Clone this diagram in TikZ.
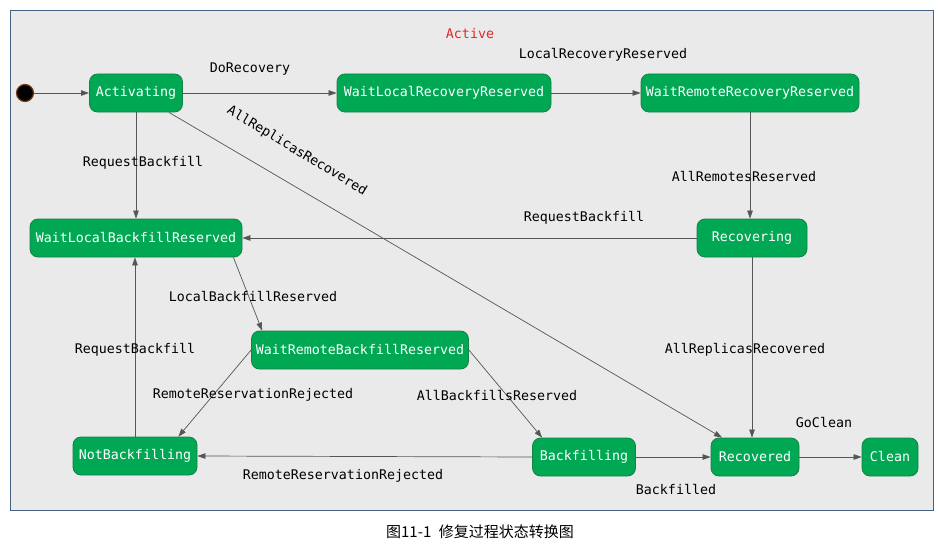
\documentclass[tikz,border=0pt]{standalone}
\usepackage{fontspec}
\setmonofont{DejaVu Sans Mono}
\newfontfamily\cjk{Noto Sans CJK SC}
\usetikzlibrary{arrows.meta,calc}
\definecolor{stgreen}{RGB}{0,168,84}
\definecolor{stborder}{RGB}{20,130,70}
\definecolor{bggray}{RGB}{234,234,234}
\definecolor{frameblue}{RGB}{70,95,130}
\definecolor{edgegray}{RGB}{85,85,85}
\definecolor{activered}{RGB}{225,40,40}
\tikzset{
  state/.style={draw=stborder, line width=0.8pt, fill=stgreen, rounded corners=8pt,
    minimum height=38pt, inner sep=0pt, text=white,
    font=\ttfamily\fontsize{13.3}{16}\selectfont},
  lbl/.style={inner sep=0pt, text=black, font=\ttfamily\fontsize{13.3}{16}\selectfont},
  tr/.style={draw=edgegray, line width=0.7pt, -{Triangle[length=8pt,width=5.5pt]}}
}
\begin{document}
\begin{tikzpicture}[x=1pt,y=-1pt]
\useasboundingbox (0,0) rectangle (940,551);
\node[fill=white, draw=none, minimum width=940pt, minimum height=551pt, inner sep=0pt] (page) at (470,275.5) {};
\node[draw=frameblue, line width=0.8pt, fill=bggray, minimum width=923pt, minimum height=500pt, inner sep=0pt] (frame) at (471.5,260) {};

\node[text=activered, inner sep=0pt, font=\ttfamily\fontsize{13.3}{16}\selectfont] (active) at (470,34) {Active};

\node[circle, fill=black, draw={rgb,255:red,120;green,60;blue,20}, line width=1.2pt, minimum size=17pt, inner sep=0pt] (init) at (25,93) {};

\node[state, minimum width=93pt]  (act)  at (136,93)  {Activating};
\node[state, minimum width=214pt] (wlrr) at (444,93)  {WaitLocalRecoveryReserved};
\node[state, minimum width=218pt] (wrrr) at (750,93)  {WaitRemoteRecoveryReserved};
\node[state, minimum width=212pt] (wlbr) at (136,238) {WaitLocalBackfillReserved};
\node[state, minimum width=110pt] (rec)  at (752,238) {Recovering};
\node[state, minimum width=217pt] (wrbr) at (360,350) {WaitRemoteBackfillReserved};
\node[state, minimum width=124pt] (nb)   at (135,456) {NotBackfilling};
\node[state, minimum width=103pt] (bf)   at (584,457) {Backfilling};
\node[state, minimum width=88pt]  (recd) at (755,457) {Recovered};
\node[state, minimum width=56pt]  (cln)  at (890,457) {Clean};

\draw[tr] (init) -- (act.west);
\draw[tr] (act.east) -- (wlrr.west);
\draw[tr] (wlrr.east) -- (wrrr.west);
\draw[tr] (wrrr.south) -- (wrrr.south |- rec.north);
\draw[tr] (rec.west) -- (wlbr.east);
\draw[tr] (act.south) -- (act.south |- wlbr.north);
\draw[tr] (act) -- (recd);
\draw[tr] ($(wlbr.south east)+(-9,0)$) -- ($(wrbr.north west)+(11,0)$);
\draw[tr] (wrbr.west) -- ($(nb.north east)+(-19,0)$);
\draw[tr] (wrbr.east) -- ($(bf.north west)+(10,0)$);
\draw[tr] (bf.west) -- (nb.east);
\draw[tr] (nb.north) -- (nb.north |- wlbr.south);
\draw[tr] (bf.east) -- (recd.west);
\draw[tr] (rec.south) -- (rec.south |- recd.north);
\draw[tr] (recd.east) -- (cln.west);

\node[lbl] (l1) at (250,69) {DoRecovery};
\node[lbl] (l2) at (603,55) {LocalRecoveryReserved};
\node[lbl] (l3) at (744,177) {AllRemotesReserved};
\node[lbl] (l4) at (584,218) {RequestBackfill};
\node[lbl] (l5) at (143,163) {RequestBackfill};
\node[lbl, rotate=-31] (l6) at (297,151) {AllReplicasRecovered};
\node[lbl] (l7) at (253,297) {LocalBackfillReserved};
\node[lbl] (l8) at (135,350) {RequestBackfill};
\node[lbl] (l9) at (253,395) {RemoteReservationRejected};
\node[lbl] (l10) at (497,396) {AllBackfillsReserved};
\node[lbl] (l11) at (343,476) {RemoteReservationRejected};
\node[lbl] (l12) at (745,350) {AllReplicasRecovered};
\node[lbl] (l13) at (824,423) {GoClean};
\node[lbl] (l14) at (676,490) {Backfilled};

\node[inner sep=0pt, font=\cjk\fontsize{15}{17}\selectfont] (cap) at (480,532) {图11-1\hspace{0.5em}修复过程状态转换图};
\end{tikzpicture}
\end{document}
